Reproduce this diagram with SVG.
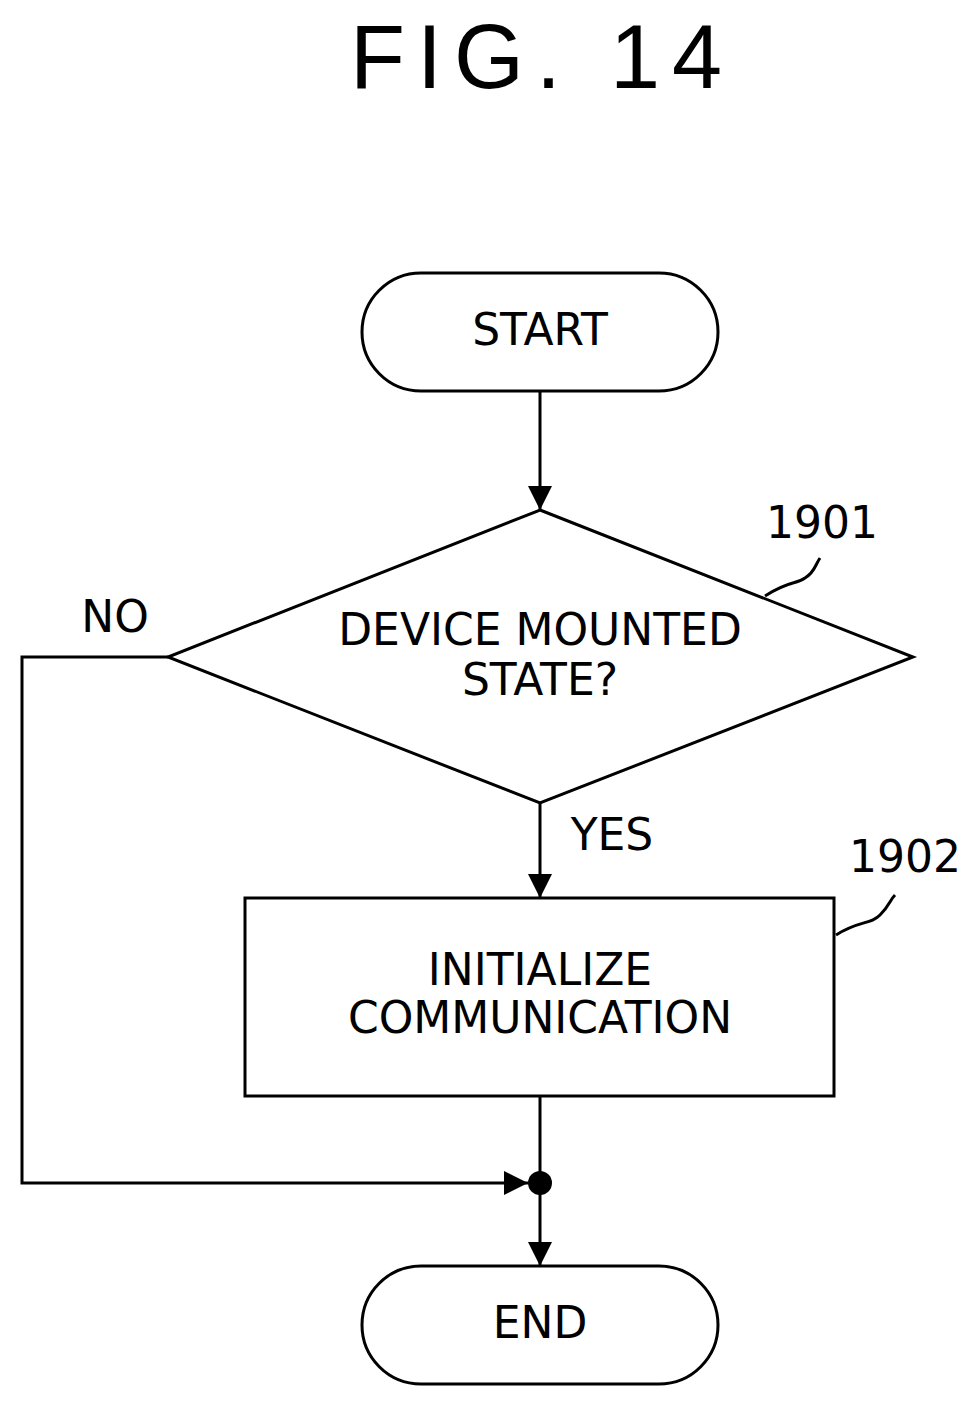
<svg xmlns="http://www.w3.org/2000/svg" width="979" height="1408" viewBox="0 0 979 1408">
<style>
.s{fill:none;stroke:#000;stroke-width:3}
.t{font-family:"DejaVu Sans",sans-serif;font-size:44px;text-anchor:middle;fill:#000}
</style>
<defs><marker id="a" markerWidth="26" markerHeight="26" refX="24" refY="12" orient="auto" markerUnits="userSpaceOnUse"><path d="M0,0 L24,12 L0,24 Z" fill="#000"/></marker></defs>
<rect width="979" height="1408" fill="#fff"/>
<text x="542" y="88" font-family="Liberation Sans,sans-serif" font-size="90" text-anchor="middle" letter-spacing="12">FIG. 14</text>
<g id="start"><rect class="s" x="362" y="273" width="356" height="118" rx="59"/><text class="t" x="540" y="345">START</text></g>
<g id="n1901"><polygon class="s" points="540,510 913,657 540,803 168,657"/><text class="t" x="540" y="645">DEVICE MOUNTED</text><text class="t" x="540" y="695">STATE?</text>
<text class="t" x="822" y="538">1901</text><path class="s" d="M765,596 C790,580 795,585 805,578 C815,572 815,565 820,558"/></g>
<g id="n1902"><rect class="s" x="245" y="898" width="589" height="198"/><text class="t" x="540" y="985">INITIALIZE</text><text class="t" x="540" y="1033">COMMUNICATION</text>
<text class="t" x="905" y="872">1902</text><path class="s" d="M836,935 C860,920 870,925 880,915 C890,905 890,900 895,895"/></g>
<g id="end"><rect class="s" x="362" y="1266" width="356" height="118" rx="59"/><text class="t" x="540" y="1338">END</text></g>
<g id="connectors">
<line class="s" x1="540" y1="391" x2="540" y2="510" marker-end="url(#a)"/>
<line class="s" x1="540" y1="803" x2="540" y2="898" marker-end="url(#a)"/>
<polyline class="s" points="168,657 22,657 22,1183 528,1183" marker-end="url(#a)"/>
<line class="s" x1="540" y1="1096" x2="540" y2="1266" marker-end="url(#a)"/>
<circle cx="540" cy="1183" r="12" fill="#000"/>
<text class="t" x="115" y="632">NO</text>
<text class="t" x="612" y="850">YES</text>
</g>
</svg>
